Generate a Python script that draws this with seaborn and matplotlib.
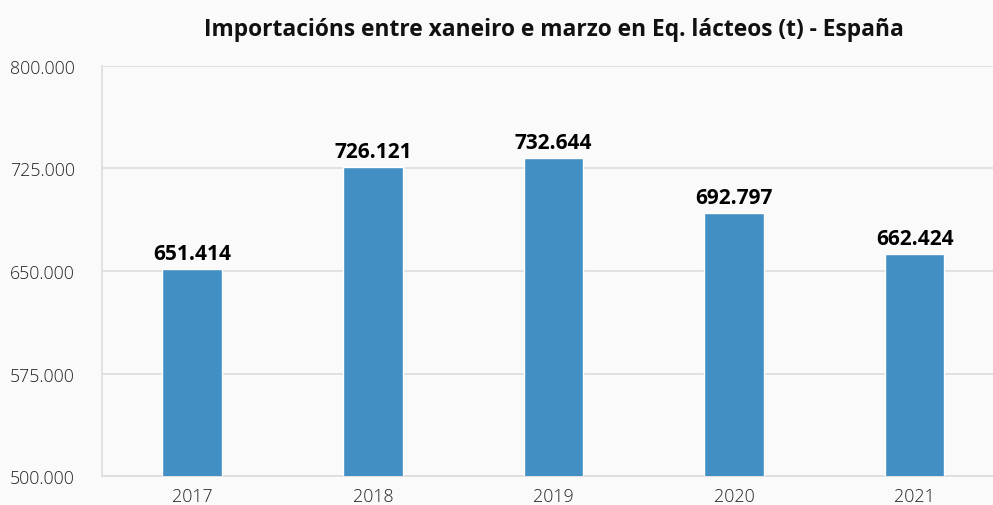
import matplotlib
matplotlib.use("Agg")
import matplotlib.pyplot as plt
import seaborn as sns
import pandas as pd

# Data
years = ["2017", "2018", "2019", "2020", "2021"]
imports_t = [651414, 726121, 732644, 692797, 662424]
y_ticks = [500000, 575000, 650000, 725000, 800000]

def es_fmt(v):
    return f"{v:,.0f}".replace(",", ".")

df = pd.DataFrame({"year": years, "value": imports_t})

sns.set_style("white")
plt.rcParams["font.family"] = ["Open Sans", "DejaVu Sans"]

bg = "#fafafa"
fig = plt.figure(figsize=(9.93, 5.06), dpi=100, facecolor=bg)
ax = fig.add_axes([0.1027, 0.0573, 0.9093, 0.8103], facecolor=bg)

sns.barplot(data=df, x="year", y="value", color="#428fc4", width=0.33,
            saturation=1, ax=ax, zorder=3)

ax.set_ylim(500000, 800000)
ax.set_yticks(y_ticks)
ax.set_yticklabels([es_fmt(t) for t in y_ticks])
ax.grid(axis="y", color="#dddddd", linewidth=1.2, zorder=0)
ax.set_xlabel("")
ax.set_ylabel("")
ax.tick_params(axis="both", length=0, labelsize=12.8, colors="#222222")
ax.tick_params(axis="y", pad=19.5)
ax.tick_params(axis="x", pad=8)
for lbl in ax.get_xticklabels() + ax.get_yticklabels():
    lbl.set_fontweight("light")

for s in ["top", "right"]:
    ax.spines[s].set_visible(False)
for s in ["left", "bottom"]:
    ax.spines[s].set_color("#dddddd")
    ax.spines[s].set_linewidth(1.2)

for i, v in enumerate(imports_t):
    ax.text(i, v + 3500, es_fmt(v), ha="center", va="bottom",
            fontsize=15, fontweight="bold", color="#000000")

fig.text(0.558, 0.94, "Importacións entre xaneiro e marzo en Eq. lácteos (t) - España",
         ha="center", va="center", fontsize=16.4, fontweight="bold", color="#111111")

fig.savefig("out.png", dpi=100, facecolor=bg)
